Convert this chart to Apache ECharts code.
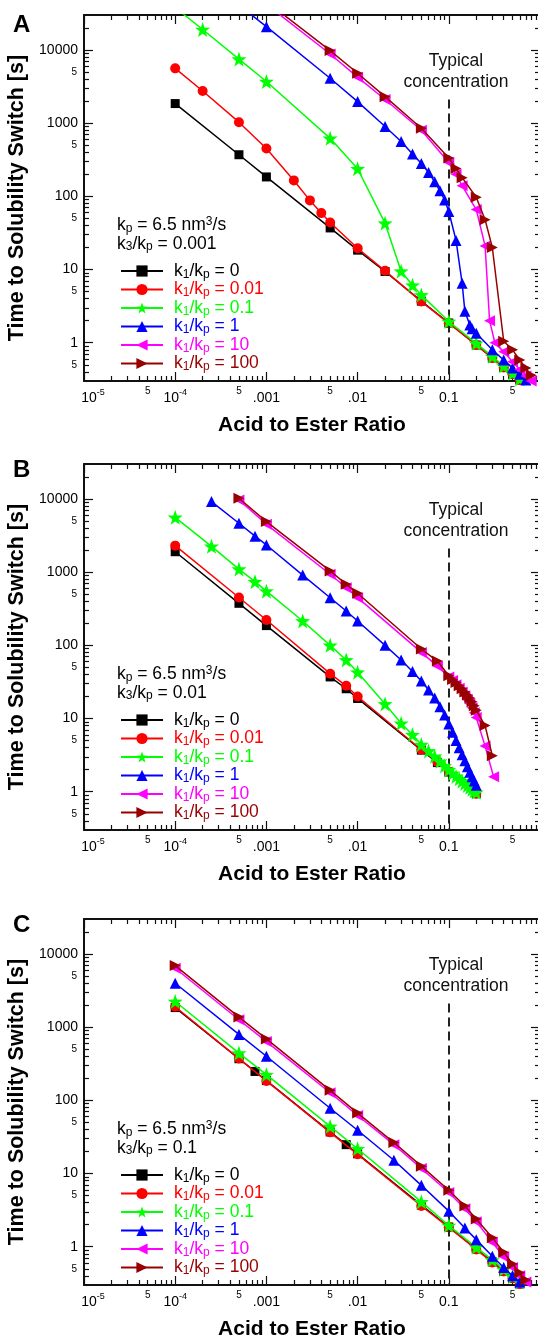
<!DOCTYPE html>
<html>
<head>
<meta charset="utf-8">
<script src="https://cdn.jsdelivr.net/npm/echarts@6/dist/echarts.min.js"></script>
<style>
  html, body { margin: 0; padding: 0; background: #fff; }
  #chart { width: 538px; height: 1336px; }
</style>
</head>
<body>
<div id="chart"></div>
<script>
// --- data: [acid/ester ratio, time (s)] ---
// panel A, k3/kp = 0.001
const A_k0 = [[1e-4,1850],[5e-4,370],[1e-3,184],[5e-3,37],[1e-2,18.4],[2e-2,9.4],[5e-2,3.7],[0.1,1.86],[0.2,0.93],[0.3,0.62],[0.4,0.46],[0.5,0.37],[0.6,0.31],[0.7,0.265]];
const A_k001 = [[1e-4,5600],[2e-4,2750],[5e-4,1030],[1e-3,450],[2e-3,165],[3e-3,88],[4e-3,59],[5e-3,44],[1e-2,19.5],[2e-2,9.6],[5e-2,3.65],[0.1,1.85],[0.2,0.93],[0.3,0.62],[0.4,0.46],[0.5,0.37],[0.6,0.31],[0.7,0.265]];
const A_k01 = [[1e-4,38000],[2e-4,19000],[5e-4,7500],[1e-3,3700],[5e-3,620],[1e-2,238],[2e-2,43],[3e-2,9.5],[4e-2,6.1],[5e-2,4.5],[0.1,1.95],[0.2,0.98],[0.3,0.65],[0.4,0.48],[0.5,0.38],[0.6,0.32],[0.7,0.27]];
const A_k1 = [[5e-4,41000],[1e-3,20800],[5e-3,4100],[1e-2,1970],[2e-2,900],[3e-2,560],[4e-2,378],[5e-2,280],[6e-2,212],[7e-2,158],[8e-2,119],[9e-2,89],[0.1,62],[0.12,25],[0.14,6.5],[0.15,2.7],[0.17,1.75],[0.18,1.55],[0.2,1.35],[0.3,0.8],[0.4,0.58],[0.5,0.45],[0.6,0.37],[0.7,0.31]];
const A_k10 = [[1e-3,42000],[5e-3,8800],[1e-2,4250],[2e-2,2100],[5e-2,800],[0.1,290],[0.12,200],[0.14,140],[0.2,66],[0.25,21],[0.28,2.0],[0.32,1.0],[0.4,0.75],[0.5,0.55],[0.6,0.43],[0.7,0.35],[0.8,0.3]];
const A_k100 = [[1e-3,46000],[5e-3,9800],[1e-2,4800],[2e-2,2300],[5e-2,850],[0.1,335],[0.12,240],[0.14,180],[0.2,97],[0.25,48],[0.3,20],[0.4,1.05],[0.5,0.8],[0.6,0.58],[0.7,0.45],[0.8,0.36]];
// panel B, k3/kp = 0.01
const B_k0 = [[1e-4,1900],[5e-4,375],[1e-3,186],[5e-3,37],[7.5e-3,25.5],[1e-2,18.8],[5e-2,3.7],[7.5e-2,2.5],[0.1,1.86],[0.2,0.94]];
const B_k001 = [[1e-4,2300],[5e-4,450],[1e-3,222],[5e-3,41],[7.5e-3,28],[1e-2,20],[5e-2,3.75],[7.5e-2,2.55],[0.1,1.88],[0.2,0.94]];
const B_k01 = [[1e-4,5600],[2.5e-4,2250],[5e-4,1100],[7.5e-4,740],[1e-3,550],[2.5e-3,215],[5e-3,100],[7.5e-3,63],[1e-2,43],[2e-2,15.8],[3e-2,8.6],[4e-2,6.0],[5e-2,4.4],[0.06,3.6],[0.07,3.05],[0.08,2.6],[0.09,2.25],[0.1,1.98],[0.11,1.78],[0.12,1.62],[0.13,1.5],[0.14,1.4],[0.15,1.3],[0.16,1.22],[0.17,1.15],[0.18,1.08],[0.19,1.03],[0.2,0.98]];
const B_k1 = [[2.5e-4,9200],[5e-4,4650],[7.5e-4,3100],[1e-3,2350],[2.5e-3,910],[5e-3,447],[7.5e-3,294],[1e-2,215],[2e-2,100],[3e-2,63],[4e-2,44],[5e-2,32.5],[0.06,24.5],[0.07,19],[0.08,14.5],[0.09,11.2],[0.1,8.4],[0.11,6.5],[0.12,5.0],[0.13,4.0],[0.14,3.2],[0.15,2.65],[0.16,2.2],[0.17,1.85],[0.18,1.6],[0.19,1.4],[0.2,1.23]];
const B_k10 = [[5e-4,9700],[1e-3,4500],[5e-3,935],[7.5e-3,612],[1e-2,448],[5e-2,80],[7.5e-2,52],[0.1,37],[0.11,33],[0.12,29],[0.13,26],[0.14,23],[0.15,20.5],[0.16,18],[0.17,16],[0.18,14],[0.19,12],[0.2,10.3],[0.25,4.2],[0.31,1.6]];
const B_k100 = [[5e-4,10200],[1e-3,4900],[5e-3,1040],[7.5e-3,682],[1e-2,515],[5e-2,89],[7.5e-2,61],[0.1,38.5],[0.11,34],[0.12,31],[0.13,28],[0.14,25.5],[0.15,23],[0.16,21],[0.17,19],[0.18,17],[0.19,15],[0.2,13],[0.25,8],[0.3,3.1]];
// panel C, k3/kp = 0.1
const C_k0 = [[1e-4,1850],[5e-4,370],[7.5e-4,248],[1e-3,186],[5e-3,37],[7.5e-3,24.8],[1e-2,18.6],[5e-2,3.7],[0.1,1.86],[0.2,0.93],[0.3,0.62],[0.4,0.46],[0.5,0.37],[0.6,0.31],[0.7,0.265]];
const C_k001 = [[1e-4,1900],[5e-4,372],[1e-3,184],[5e-3,36.5],[1e-2,18.3],[5e-2,3.6],[0.1,1.84],[0.2,0.92],[0.3,0.61],[0.4,0.46],[0.5,0.37],[0.6,0.31],[0.7,0.265]];
const C_k01 = [[1e-4,2240],[5e-4,442],[1e-3,224],[5e-3,44],[1e-2,21.8],[5e-2,4.1],[0.1,1.95],[0.2,0.98],[0.3,0.66],[0.4,0.49],[0.5,0.39],[0.6,0.33],[0.7,0.28]];
const C_k1 = [[1e-4,3980],[5e-4,795],[1e-3,400],[5e-3,78],[1e-2,39],[2.5e-2,15.2],[5e-2,6.9],[0.1,3.06],[0.15,1.8],[0.2,1.25],[0.3,0.74],[0.4,0.52],[0.5,0.4],[0.6,0.33],[0.7,0.28]];
const C_k10 = [[1e-4,6380],[5e-4,1260],[1e-3,635],[5e-3,127],[1e-2,62],[2.5e-2,24.8],[5e-2,11.7],[0.1,5.5],[0.15,3.3],[0.2,2.2],[0.3,1.15],[0.4,0.73],[0.5,0.52],[0.6,0.4],[0.7,0.33]];
const C_k100 = [[1e-4,6930],[5e-4,1370],[1e-3,690],[5e-3,137],[1e-2,67],[2.5e-2,26.5],[5e-2,12.6],[0.1,5.9],[0.15,3.6],[0.2,2.4],[0.3,1.33],[0.4,0.84],[0.5,0.58],[0.6,0.44],[0.7,0.35]];

const panelData = [
  [A_k0, A_k001, A_k01, A_k1, A_k10, A_k100],
  [B_k0, B_k001, B_k01, B_k1, B_k10, B_k100],
  [C_k0, C_k001, C_k01, C_k1, C_k10, C_k100]
];
const ratios = ['0', '0.01', '0.1', '1', '10', '100'];   // k1/kp
const k3Values = ['0.001', '0.01', '0.1'];             // k3/kp
const panelLetters = ['A', 'B', 'C'];
const typicalRatio = 0.1;

// ticks
const xMajor = [1e-5, 1e-4, 1e-3, 1e-2, 1e-1];
const xMajorLabels = ['10^-5', '10^-4', '.001', '.01', '0.1'];
const xFives = [5e-5, 5e-4, 5e-3, 5e-2, 5e-1];
const yMajor = [1, 10, 100, 1000, 10000];
const yMajorLabels = ['1', '10', '100', '1000', '10000'];
const yFives = [0.5, 5, 50, 500, 5000];
const X_MIN = 1e-5, X_MAX = 1, Y_MIN = 0.3, Y_MAX = 30000;

// minor ticks 2..9 of each decade
function minorTicks(fromExp, toExp, lo, hi) {
  const out = [];
  for (let e = fromExp; e <= toExp; e++) {
    for (let m = 2; m <= 9; m++) {
      const v = +(m * Math.pow(10, e)).toPrecision(6);
      if (v > lo && v < hi) out.push(v);
    }
  }
  return out;
}
const xMinor = minorTicks(-5, -1, X_MIN, X_MAX);
const yMinor = minorTicks(-1, 4, Y_MIN, Y_MAX);

// --- layout ---
const FONT = '"Liberation Sans", Arial, Helvetica, sans-serif';
const GRID_LEFT = 84, GRID_W = 456, GRID_H = 366;
const panelTops = [15, 464, 919];
const letterTops = [13, 458, 913];
const colors = ['#000000', '#ff0000', '#00ff00', '#0000ff', '#ff00ff', '#990000'];
const STAR = 'path://M50,0L61.76,33.82L97.55,34.55L69.02,56.18L79.39,90.45L50,70L20.61,90.45L30.98,56.18L2.45,34.55L38.24,33.82Z';
const TRI_L = 'path://M0,50L100,0L100,100Z';
const TRI_R = 'path://M0,0L100,50L0,100Z';
const symbols = ['rect', 'circle', STAR, 'triangle', TRI_L, TRI_R];
const symbolSizes = [9, 10, 15, 11, 11, 11];
const AXIS_COLOR = '#111';

function nearestIdx(arr, v) {
  let best = 0;
  arr.forEach((a, i) => { if (Math.abs(Math.log10(a) - Math.log10(v)) < Math.abs(Math.log10(arr[best]) - Math.log10(v))) best = i; });
  return best;
}

function xLabel(v) {
  const i = nearestIdx(xMajor, v);
  const s = xMajorLabels[i];
  if (s.indexOf('^') > 0) {
    const parts = s.split('^');
    return '{' + (i === 0 ? 'f' : 't') + '|' + parts[0] + '}{e|' + parts[1] + '}';
  }
  return '{t|' + s + '}';
}

const chart = echarts.init(document.getElementById('chart'));
const grids = [], xAxes = [], yAxes = [], series = [], legends = [], graphics = [];

panelTops.forEach((top, p) => {
  grids.push({ left: GRID_LEFT, top: top, width: GRID_W, height: GRID_H, containLabel: false, outerBoundsMode: 'none' });

  const xb = { type: 'log', logBase: 10, gridIndex: p, min: X_MIN, max: X_MAX, splitLine: { show: false },
    minorTick: { show: false }, minorSplitLine: { show: false } };
  const lineOn = { show: true, onZero: false, lineStyle: { color: AXIS_COLOR, width: 2 } };
  const lineOff = { show: false, onZero: false };
  const tick = (vals, len) => ({ show: true, inside: true, length: len, customValues: vals, lineStyle: { color: AXIS_COLOR, width: 1.2 } });

  xAxes.push(
    Object.assign({}, xb, { position: 'bottom', axisLine: lineOn, axisTick: tick(xMajor, 9),
      axisLabel: { customValues: xMajor, formatter: xLabel, margin: 7, color: '#000', fontFamily: FONT,
        rich: {
          t: { fontSize: 14, lineHeight: 20, fontFamily: FONT, color: '#000' },
          f: { fontSize: 14, lineHeight: 20, fontFamily: FONT, color: '#000', padding: [0, 0, 0, 18] },
          e: { fontSize: 9, lineHeight: 7, verticalAlign: 'top', fontFamily: FONT, color: '#000' }
        } },
      name: 'Acid to Ester Ratio', nameLocation: 'middle', nameGap: 34,
      nameTextStyle: { fontSize: 21, fontWeight: 'bold', color: '#000', fontFamily: FONT } }),
    Object.assign({}, xb, { position: 'bottom', axisLine: lineOff, axisTick: tick(xMinor, 5),
      axisLabel: { customValues: xFives, formatter: () => '5', margin: 5, fontSize: 10, color: '#000', fontFamily: FONT } }),
    Object.assign({}, xb, { position: 'top', axisLine: lineOn, axisTick: tick(xMajor, 9), axisLabel: { show: false } }),
    Object.assign({}, xb, { position: 'top', axisLine: lineOff, axisTick: tick(xMinor, 5), axisLabel: { show: false } })
  );

  const yb = { type: 'log', logBase: 10, gridIndex: p, min: Y_MIN, max: Y_MAX, splitLine: { show: false },
    minorTick: { show: false }, minorSplitLine: { show: false } };
  yAxes.push(
    Object.assign({}, yb, { position: 'left', axisLine: lineOn, axisTick: tick(yMajor, 9),
      axisLabel: { customValues: yMajor, formatter: v => yMajorLabels[nearestIdx(yMajor, v)], margin: 6,
        fontSize: 14, color: '#000', fontFamily: FONT },
      name: 'Time to Solubility Switch [s]', nameLocation: 'middle', nameGap: 52, nameRotate: 90,
      nameTextStyle: { fontSize: 21.5, fontWeight: 'bold', color: '#000', fontFamily: FONT } }),
    Object.assign({}, yb, { position: 'left', axisLine: lineOff, axisTick: tick(yMinor, 5),
      axisLabel: { customValues: yFives, formatter: () => '5', margin: 7, fontSize: 10, color: '#000', fontFamily: FONT } }),
    Object.assign({}, yb, { position: 'right', axisLine: lineOn, axisTick: tick(yMajor, 9), axisLabel: { show: false } }),
    Object.assign({}, yb, { position: 'right', axisLine: lineOff, axisTick: tick(yMinor, 5), axisLabel: { show: false } })
  );

  const names = [];
  panelData[p].forEach((data, j) => {
    const name = panelLetters[p] + ':' + ratios[j];
    names.push(name);
    const s = {
      name: name, type: 'line', xAxisIndex: p * 4, yAxisIndex: p * 4, data: data,
      symbol: symbols[j], symbolSize: symbolSizes[j], showSymbol: true,
      smooth: false, clip: true, animation: false, z: 3 + j,
      lineStyle: { color: colors[j], width: 1.5 }, itemStyle: { color: colors[j] }
    };
    if (j === 0) {
      s.markLine = { silent: true, symbol: 'none', animation: false, label: { show: false },
        lineStyle: { type: [9, 5], color: '#222', width: 2 },
        data: [[{ coord: [typicalRatio, 2100] }, { coord: [typicalRatio, Y_MIN] }]] };
    }
    series.push(s);
  });

  const rich = {};
  colors.forEach((c, j) => {
    rich['p' + j] = { fontSize: 17.5, lineHeight: 19, color: c, fontFamily: FONT, padding: [0, 0, 0, 6] };
    rich['m' + j] = { fontSize: 17.5, lineHeight: 19, color: c, fontFamily: FONT };
    rich['s' + j] = { fontSize: 12, lineHeight: 7, verticalAlign: 'bottom', color: c, fontFamily: FONT };
  });
  legends.push({
    orient: 'vertical', left: 115, top: top + 242, itemWidth: 42, itemHeight: 14, itemGap: 0,
    selectedMode: false, data: names,
    formatter: n => {
      const j = ratios.indexOf(n.split(':')[1]);
      return '{p' + j + '|k}{s' + j + '|1}{m' + j + '|/k}{s' + j + '|p}{m' + j + '| = ' + ratios[j] + '}';
    },
    textStyle: { rich: rich }
  });

  // parameter block, panel letter, annotation
  graphics.push(
    { type: 'text', x: 117, y: top + 201, silent: true, style: {
      text: '{m|k}{s|p}{m| = 6.5 nm}{u|3}{m|/s}\n{m|k}{s|3}{m|/k}{s|p}{m| = ' + k3Values[p] + '}',
      verticalAlign: 'top', align: 'left',
      rich: {
        m: { fontSize: 17.5, lineHeight: 18.5, fill: '#000', fontFamily: FONT },
        s: { fontSize: 12, lineHeight: 7, verticalAlign: 'bottom', fill: '#000', fontFamily: FONT },
        u: { fontSize: 12, lineHeight: 8, verticalAlign: 'top', fill: '#000', fontFamily: FONT }
      } } },
    { type: 'text', x: 13, y: letterTops[p], silent: true, style: {
      text: panelLetters[p], fill: '#000', font: 'bold 24px ' + FONT, verticalAlign: 'top' } },
    { type: 'text', x: 456, y: top + 36, silent: true, style: {
      text: 'Typical\nconcentration', fill: '#111', font: '17.5px ' + FONT, lineHeight: 21,
      align: 'center', verticalAlign: 'top' } }
  );
});

chart.setOption({
  animation: false,
  backgroundColor: '#fff',
  textStyle: { fontFamily: FONT },
  grid: grids,
  xAxis: xAxes,
  yAxis: yAxes,
  legend: legends,
  graphic: graphics,
  series: series
});
</script>
</body>
</html>
